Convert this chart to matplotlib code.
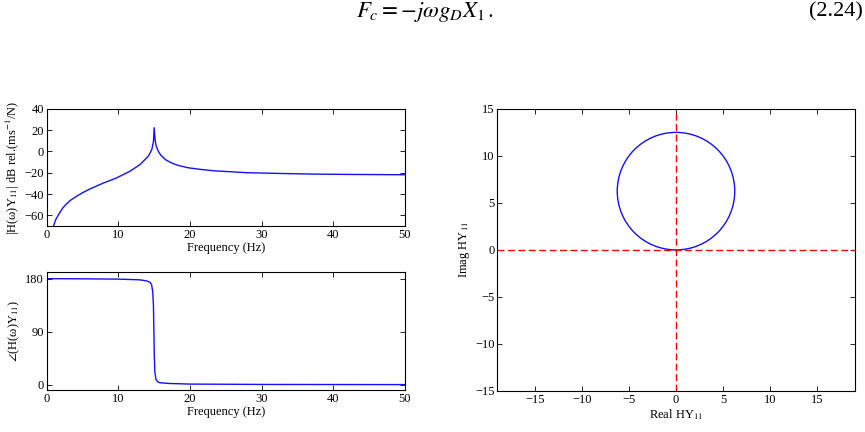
import matplotlib
matplotlib.use("Agg")
import matplotlib.pyplot as plt
from matplotlib.patches import Circle

# magnitude of H(w)Y11
mag_freq = [0.93, 1.1, 1.3, 1.77, 2.2, 2.7, 3.3, 4.1, 5.0, 5.96, 7.83, 9.69, 11.65, 13.05,
            14.2, 14.68, 14.91, 15.0, 15.15, 15.3, 15.47, 15.7, 16.0, 16.6, 17.2, 17.7,
            18.5, 19.8, 21.5, 23.4, 28.0, 32.7, 37.4, 42.0, 50.0]
mag_db = [-70.7, -67.0, -63.5, -58.1, -53.5, -49.7, -46.0, -42.4, -38.8, -35.5, -29.9, -25.1,
          -18.5, -12.2, -4.4, 1.9, 9.8, 22.3, 9.8, 4.8, 1.9, -1.2, -4.0, -7.8, -10.0, -11.6,
          -13.4, -15.4, -16.9, -18.2, -20.0, -20.7, -21.3, -21.6, -21.9]

# phase, bottom-left panel
phase_freq = [0, 5, 10, 13, 14, 14.4, 14.64, 14.8, 14.9, 14.96, 15.02, 15.1, 15.25,
              15.5, 15.8, 17.2, 20, 30, 50]
phase_deg = [180, 179.7, 179.2, 178, 176, 174, 170, 158, 135, 95, 50, 22, 9,
             5, 3.4, 2.2, 1.2, 0.6, 0.3]

# Nyquist circle, right panel
circle_center = (0.0, 6.25)
circle_radius = 6.25

freq_ticks = [0, 10, 20, 30, 40, 50]
mag_ticks = [-60, -40, -20, 0, 20, 40]
phase_ticks = [0, 90, 180]
nyq_xticks = [-15, -10, -5, 0, 5, 10, 15]
nyq_yticks = [-15, -10, -5, 0, 5, 10, 15]

plt.rcParams["font.family"] = ["Liberation Serif", "DejaVu Serif"]
plt.rcParams["mathtext.fontset"] = "stix"
plt.rcParams["font.size"] = 9
plt.rcParams["axes.linewidth"] = 0.8


def matlab_box(ax):
    ax.tick_params(direction="in", top=True, right=True, length=3.5, width=0.6,
                   pad=2, labelsize=9)


fig = plt.figure(figsize=(8.65, 4.32), dpi=100)

fig.text(0.491, 0.961, r"$F_c = -j\omega g_D X_1\,.$", fontsize=16.5,
         ha="center", va="baseline")
fig.text(0.998, 0.961, "(2.24)", fontsize=16, ha="right", va="baseline")

ax_mag = fig.add_axes([0.054, 0.477, 0.414, 0.271])
ax_mag.plot(mag_freq, mag_db, color="#1010ff", lw=1.0)
ax_mag.set_xlim(0, 50)
ax_mag.set_ylim(-70, 40)
ax_mag.set_xticks(freq_ticks)
ax_mag.set_yticks(mag_ticks)
ax_mag.set_xlabel("Frequency (Hz)", labelpad=1)
ax_mag.set_ylabel(r"|H(ω)Y$_{11}$| dB rel.(ms$^{-1}$/N)", labelpad=2)
matlab_box(ax_mag)

ax_ph = fig.add_axes([0.054, 0.097, 0.414, 0.273])
ax_ph.plot(phase_freq, phase_deg, color="#1010ff", lw=1.0)
ax_ph.set_xlim(0, 50)
ax_ph.set_ylim(-9, 191)
ax_ph.set_xticks(freq_ticks)
ax_ph.set_yticks(phase_ticks)
ax_ph.set_xlabel("Frequency (Hz)", labelpad=1)
ax_ph.set_ylabel(r"$\angle$(H(ω)Y$_{11}$)", labelpad=2)
matlab_box(ax_ph)

ax_ny = fig.add_axes([0.575, 0.095, 0.413, 0.653])
ax_ny.axhline(0, color="r", lw=1.0, dashes=(5, 2.5))
ax_ny.axvline(0, color="r", lw=1.0, dashes=(5, 2.5))
ax_ny.add_patch(Circle(circle_center, circle_radius, fill=False, edgecolor="#1010ff", lw=1.0))
ax_ny.set_xlim(-19, 19)
ax_ny.set_ylim(-15, 15)
ax_ny.set_xticks(nyq_xticks)
ax_ny.set_yticks(nyq_yticks)
ax_ny.set_xlabel(r"Real HY$_{11}$", labelpad=1)
ax_ny.set_ylabel(r"Imag HY$_{11}$", labelpad=2)
matlab_box(ax_ny)

fig.savefig("out.png", dpi=100)
